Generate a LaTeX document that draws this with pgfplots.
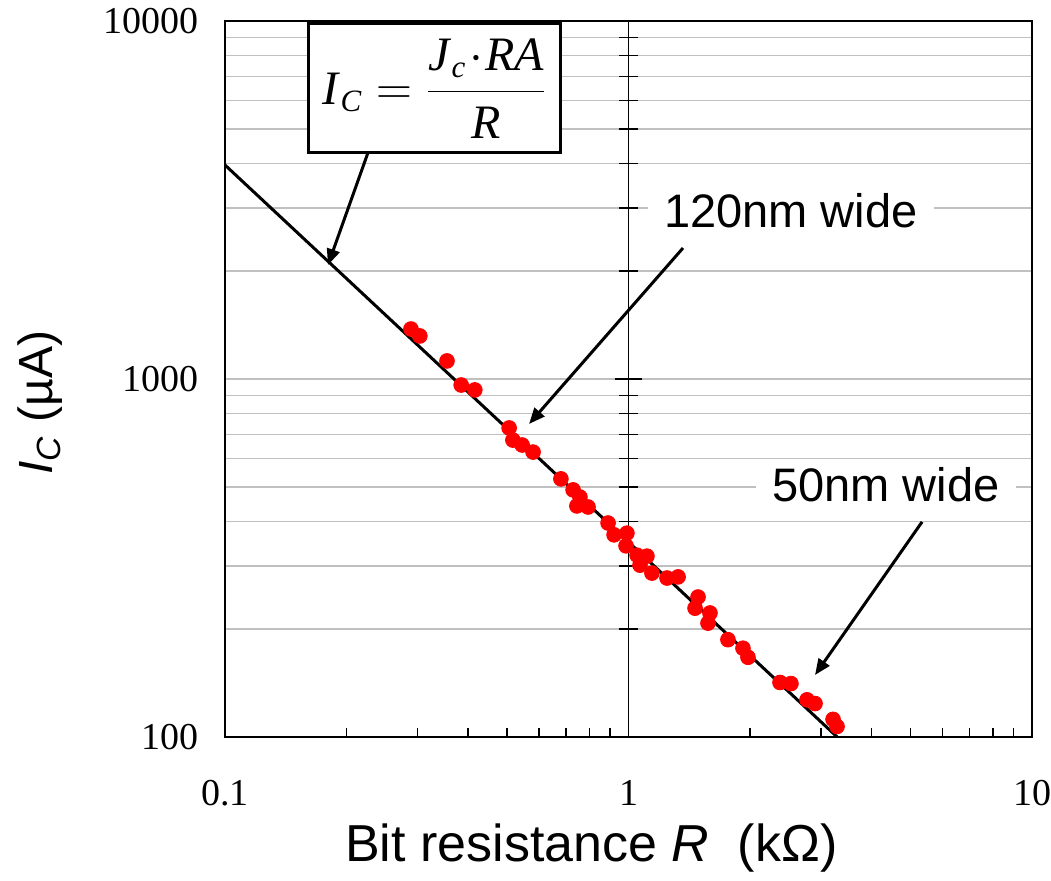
\documentclass[border=0pt]{standalone}
\usepackage{pgfplots}
\pgfplotsset{compat=1.18}
\usepackage{fontspec}
\setmainfont{Liberation Serif}
\newfontfamily\arial{Liberation Sans}
\usetikzlibrary{arrows.meta}
\pgfplotsset{set layers}
\definecolor{gridgray}{RGB}{192,192,192}

\pgfplotstableread{
x y
0.289 1379
0.304 1319
0.355 1123
0.385 962
0.416 932
0.506 730
0.517 675
0.545 654
0.580 625
0.680 526
0.729 490
0.758 468
0.745 442
0.794 439
0.890 396
0.921 367
0.991 371
0.986 342
1.050 322
1.068 302
1.111 320
1.143 287
1.246 278
1.327 280
1.487 246
1.462 229
1.592 222
1.574 208
1.764 187
1.922 177
1.978 167
2.374 142
2.527 141
2.770 127
2.899 124
3.213 112
3.287 107
}\datatable

\begin{document}
\begin{tikzpicture}
% vertical axis line at R = 1 with ticks
\begin{axis}[
  at={(201.75pt,0pt)}, anchor=south west,
  scale only axis, width=201.75pt, height=358pt,
  xmode=log, ymode=log, xmin=1, xmax=10, ymin=100, ymax=10000,
  axis x line=none, axis y line*=left,
  axis line style={line width=0.75pt,-},
  ytick={100,1000,10000}, yticklabel=\empty,
  ytick align=center,
  major tick length=13.5pt, minor tick length=9.5pt,
  tick style={line width=0.75pt, black},
]
\addplot[draw=none] coordinates {(1,100) (10,10000)};
\end{axis}

\begin{axis}[
  at={(0pt,0pt)}, anchor=south west,
  scale only axis, width=403.5pt, height=358pt,
  xmode=log, ymode=log, xmin=0.1, xmax=10, ymin=100, ymax=10000,
  axis line style={line width=1pt},
  xtick={0.1,1,10}, xticklabels={0.1,1,10},
  ytick={100,1000,10000}, yticklabels={100,1000,10000},
  xtick pos=bottom, xtick align=inside,
  major tick length=4.5pt, minor tick length=4.5pt,
  x tick style={line width=0.75pt, black},
  ytick style={draw=none},
  ymajorgrids, yminorgrids,
  major grid style={gridgray, line width=0.75pt},
  minor grid style={gridgray, line width=0.75pt},
  tick label style={font=\fontsize{19}{22}\selectfont},
  xticklabel style={yshift=-18pt},
  yticklabel style={xshift=-9.5pt},
  xlabel={Bit resistance \textit{R}\hspace{0.55em}(kΩ)},
  ylabel={\textit{I}\textsubscript{\textit{C}} (µA)},
  xlabel style={at={(axis description cs:0.454,-0.155)}, anchor=center, font=\arial\fontsize{26}{30}\selectfont},
  ylabel style={at={(axis description cs:-0.229,0.467)}, anchor=center, font=\arial\fontsize{24}{28}\selectfont},
]
\addplot[black, line width=1.5pt] coordinates {(0.1,3960) (3.29,100)};
\addplot[only marks, mark=*, mark size=3.7pt, draw=red, fill=red, mark options={draw=red, fill=red}] table[x=x, y=y] {\datatable};

\node[draw, line width=1.5pt, fill=white, minimum width=126pt, minimum height=64.5pt, inner sep=0pt,
      font=\fontsize{24}{28}\selectfont] at (axis cs:0.331,6480)
  {$\displaystyle\mbox{\textit{I}}_{\mbox{\fontsize{15.5}{18}\selectfont\textit{C}}} = \frac{\mbox{\textit{J}}_{\mbox{\fontsize{15.5}{18}\selectfont\textit{c}}}\!\cdot\!\mbox{\textit{RA}}}{\mbox{\textit{R}}}$};
\draw[line width=1.5pt, -{Triangle[length=8pt,width=6.5pt]}] (axis cs:0.226,4279) -- (axis cs:0.180,2082);

\node[fill=white, inner xsep=8pt, inner ysep=4pt, font=\arial\fontsize{23.5}{28}\selectfont] at (axis cs:2.527,2947) {120nm wide};
\draw[line width=1.5pt, -{Triangle[length=8pt,width=6.5pt]}] (axis cs:1.365,2322) -- (axis cs:0.567,749);

\node[fill=white, inner xsep=8pt, inner ysep=4pt, font=\arial\fontsize{23.5}{28}\selectfont] at (axis cs:4.348,506) {50nm wide};
\draw[line width=1.5pt, -{Triangle[length=8pt,width=6.5pt]}] (axis cs:5.34,399) -- (axis cs:2.899,149);
\end{axis}
\pgfresetboundingbox
\path[use as bounding box] (-112.5pt,-72pt) rectangle (413pt,368.5pt);
\end{tikzpicture}
\end{document}
